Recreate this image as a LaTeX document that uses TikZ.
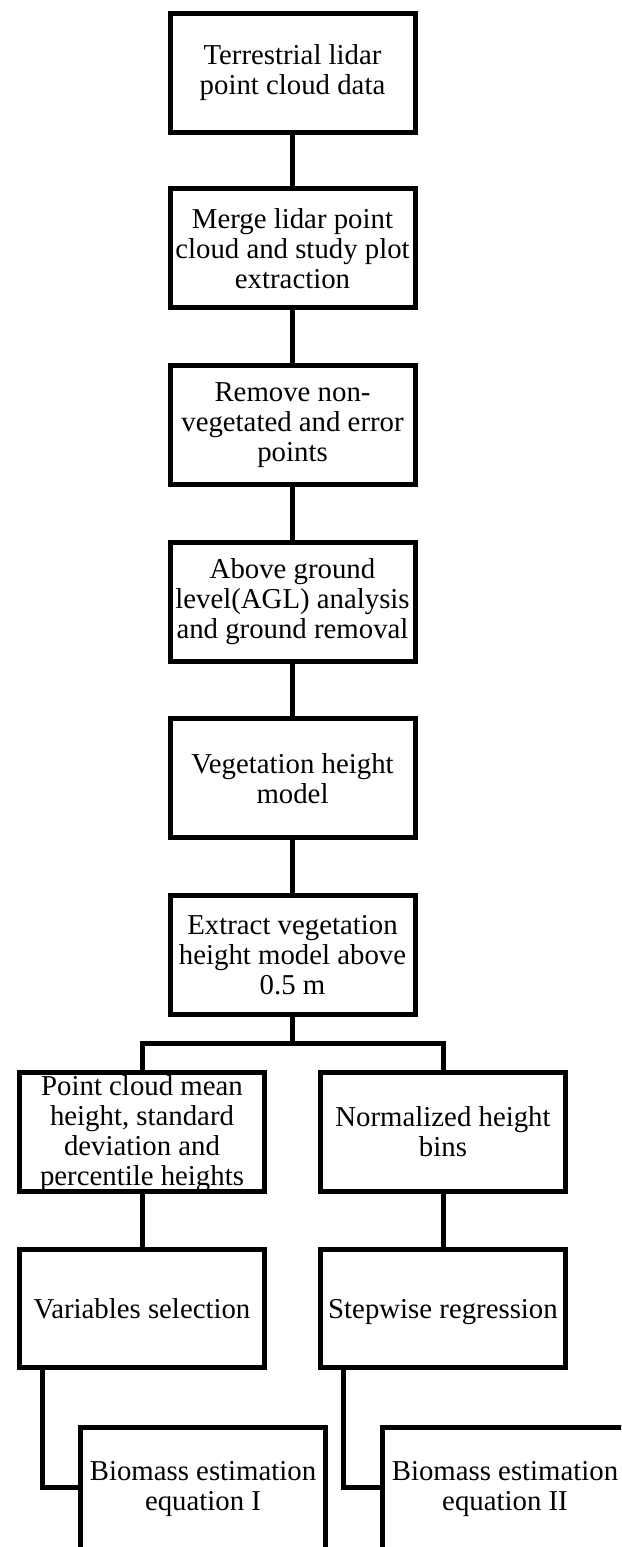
\documentclass[tikz,border=0pt]{standalone}
\usepackage{fontspec}
\setmainfont{Liberation Serif}
\newcommand\boxfont{\fontsize{28.8}{30}\selectfont}
\begin{document}
\begin{tikzpicture}[x=1pt,y=-1pt,
  stepbox/.style={draw=black, line width=5pt, minimum width=245pt, minimum height=119pt,
    inner sep=0pt, align=center, font=\boxfont},
  link/.style={draw=black, line width=5pt, line join=miter}]
\useasboundingbox (0,0) rectangle (621,1547);
\clip (0,0) rectangle (621,1547);
\fill[white] (0,0) rectangle (621,1547);
% main column
\node[stepbox] (n1) at (292.5,72.5) {Terrestrial lidar\\point cloud data};
\node[stepbox] (n2) at (292.5,248.2) {Merge lidar point\\cloud and study plot\\extraction};
\node[stepbox] (n3) at (292.5,424.9) {Remove non-\\vegetated and error\\points};
\node[stepbox] (n4) at (292.5,601.6) {Above ground\\level(AGL) analysis\\and ground removal};
\node[stepbox] (n5) at (292.5,778.3) {Vegetation height\\model};
\node[stepbox] (n6) at (292.5,955.0) {Extract vegetation\\height model above\\0.5 m};
% branches
\node[stepbox] (l1) at (142,1132) {\rule{0pt}{23.7pt}Point cloud mean\\height, standard\\deviation and\\percentile heights};
\node[stepbox] (r1) at (443,1132) {Normalized height\\bins};
\node[stepbox, minimum height=118pt, text depth=0pt] (l2) at (142,1308.5) {Variables selection};
\node[stepbox, minimum height=118pt, text depth=0pt] (r2) at (443,1308.5) {Stepwise regression};
\node[stepbox, minimum height=124pt] (l3) at (203,1489) {Biomass estimation\\equation I};
\node[stepbox, minimum height=124pt] (r3) at (505,1489) {Biomass estimation\\equation II};
% connectors
\draw[link] (n1) -- (n2);
\draw[link] (n2) -- (n3);
\draw[link] (n3) -- (n4);
\draw[link] (n4) -- (n5);
\draw[link] (n5) -- (n6);
\coordinate (split) at (292.5,1043);
\draw[link] (n6.south) -- (split);
\draw[link] (l1.north) |- (split) -| (r1.north);
\draw[link] (l1) -- (l2);
\draw[link] (r1) -- (r2);
\coordinate (cl) at (42,1487);
\coordinate (cr) at (343,1487);
\draw[link] (l2.south -| cl) -- (cl) -- (cl -| l3.west);
\draw[link] (r2.south -| cr) -- (cr) -- (cr -| r3.west);
\end{tikzpicture}
\end{document}
